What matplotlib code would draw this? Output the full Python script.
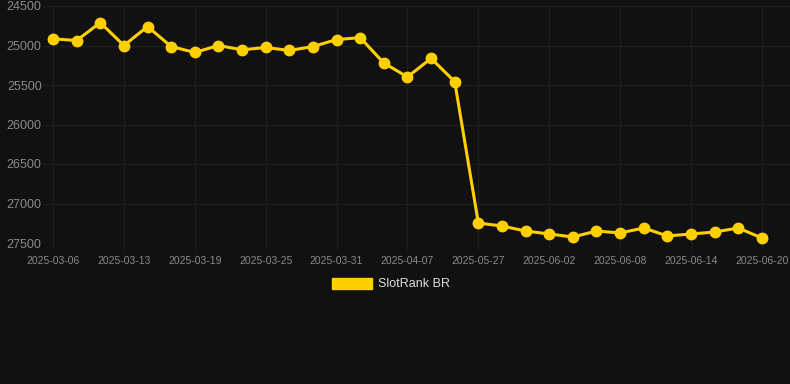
import matplotlib
matplotlib.use("Agg")
import matplotlib.pyplot as plt
from matplotlib.patches import Patch

plt.rcParams['font.family'] = ['Liberation Sans', 'DejaVu Sans']

dates = ["2025-03-06", "2025-03-08", "2025-03-10", "2025-03-13", "2025-03-15",
         "2025-03-17", "2025-03-19", "2025-03-21", "2025-03-23", "2025-03-25",
         "2025-03-27", "2025-03-29", "2025-03-31", "2025-04-02", "2025-04-04",
         "2025-04-07", "2025-04-09", "2025-04-11", "2025-05-27", "2025-05-29",
         "2025-05-31", "2025-06-02", "2025-06-04", "2025-06-06", "2025-06-08",
         "2025-06-10", "2025-06-12", "2025-06-14", "2025-06-16", "2025-06-18",
         "2025-06-20"]
ranks = [24915, 24937, 24710, 25000, 24760, 25013, 25088, 25000, 25055, 25025,
         25063, 25013, 24925, 24900, 25222, 25398, 25163, 25457, 27247, 27285,
         27348, 27386, 27424, 27348, 27373, 27310, 27411, 27386, 27361, 27310,
         27437]
series_name = "SlotRank BR"
y_ticks = [24500, 25000, 25500, 26000, 26500, 27000, 27500]

bg = "#111111"
gold = "#FFD000"
grid = "#1e1e1e"
tick_col = "#8a8a8a"

W, H = 790, 384
fig = plt.figure(figsize=(W / 100, H / 100), dpi=100, facecolor=bg)
left, right, top, bottom = 43, 790, 6, 243
ax = fig.add_axes([left / W, 1 - bottom / H, (right - left) / W, (bottom - top) / H])
ax.set_facecolor(bg)

x = list(range(len(dates)))
ax.plot(x, ranks, color=gold, linewidth=2.2, marker='o', markersize=7.5,
        markerfacecolor=gold, markeredgecolor=gold, zorder=3, clip_on=False)

ax.set_ylim(27500, 24500)
ax.set_yticks(y_ticks)
ax.set_yticklabels([str(v) for v in y_ticks])
px_per = 23.63
ax.set_xlim(-(53 - left) / px_per, (right - 53) / px_per)
ax.set_xticks(x[::3])
ax.set_xticklabels(dates[::3])

for s in ax.spines.values():
    s.set_visible(False)
ax.grid(True, color=grid, linewidth=1)
ax.tick_params(axis='y', colors=tick_col, labelsize=9, length=0, pad=1)
ax.tick_params(axis='x', colors=tick_col, labelsize=7.5, length=5, color=grid, pad=4)
for lab in ax.get_yticklabels():
    lab.set_color(tick_col)
for lab in ax.get_xticklabels():
    lab.set_color(tick_col)

handle = Patch(facecolor=gold, edgecolor=gold)
leg = fig.legend([handle], [series_name], loc='center', bbox_to_anchor=(391 / W, 1 - 284 / H),
                 frameon=False, fontsize=9, handlelength=3.2, handleheight=1.0,
                 handletextpad=0.5, labelcolor="#dddddd")

fig.savefig("out.png", dpi=100, facecolor=bg)
